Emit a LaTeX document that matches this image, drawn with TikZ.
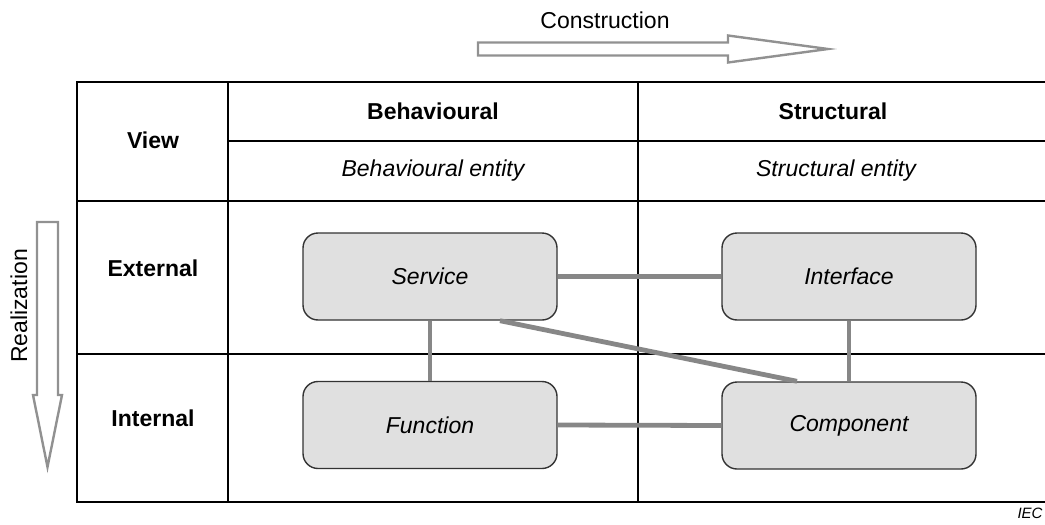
\documentclass[tikz,border=0pt]{standalone}
\usepackage{fontspec}
\setmainfont{Liberation Sans}
\begin{document}
\begin{tikzpicture}[x=1pt,y=-1pt,
  grid/.style={line width=1.8pt,black},
  entity/.style={draw=black!80,line width=1.4pt,fill=black!12,rounded corners=15pt,
    minimum width=254pt,minimum height=87pt,inner sep=0pt,
    font=\fontsize{23}{27}\selectfont\itshape},
  link/.style={line width=4.8pt,black!47},
  hollow/.style={draw=black!43,line width=2.4pt,fill=white,line join=miter},
  head/.style={font=\fontsize{23}{27}\selectfont\bfseries},
  sub/.style={font=\fontsize{23}{27}\selectfont\itshape},
  plain/.style={font=\fontsize{23}{27}\selectfont}
]
\useasboundingbox (0,0) rectangle (1045,525);

% table grid
\draw[grid] (1045,82) -- (77,82) -- (77,502) -- (1045,502);
\draw[grid] (228,141) -- (1045,141);
\draw[grid] (77,201) -- (1045,201);
\draw[grid] (77,354) -- (1045,354);
\draw[grid] (228,82) -- (228,502);
\draw[grid] (638,82) -- (638,502);

% header texts
\node[head] (view) at (153,140) {View};
\node[head] (beh) at (433,111) {Behavioural};
\node[head] (str) at (833,111) {Structural};
\node[sub] (behent) at (433,171) {Behavioural entity};
\node[sub] (strent) at (836,171) {Structural entity};
\node[head] (ext) at (153,268) {External};
\node[head] (int) at (153,418) {Internal};

% direction arrows
\node[plain] (constr) at (605,20) {Construction};
\draw[hollow] (478,42.5) -- (728,42.5) -- (728,35.5) -- (828,49) -- (728,62.5)
  -- (728,55.5) -- (478,55.5) -- cycle;
\node[plain,rotate=90] (real) at (19,306) {Realization};
\draw[hollow] (37,222) -- (58,222) -- (58,395) -- (62,395) -- (47.5,467)
  -- (33,395) -- (37,395) -- cycle;

% entities
\node[entity] (service) at (430,276.5) {Service};
\node[entity] (interface) at (849,276.5) {Interface};
\node[entity] (function) at (430,425) {Function};
\node[entity] (component) at (849,425.5) {Component};

% relations
\draw[link] (service.east) -- (interface.west);
\draw[link] (function.east) -- (component.west);
\draw[link] (service.south) -- (function.north);
\draw[link] (interface.south) -- (component.north);
\draw[link] ([xshift=70pt]service.south) -- ([xshift=-52pt]component.north);

\node[font=\fontsize{15}{17}\selectfont\itshape] (iec) at (1030,513) {IEC};
\end{tikzpicture}
\end{document}
